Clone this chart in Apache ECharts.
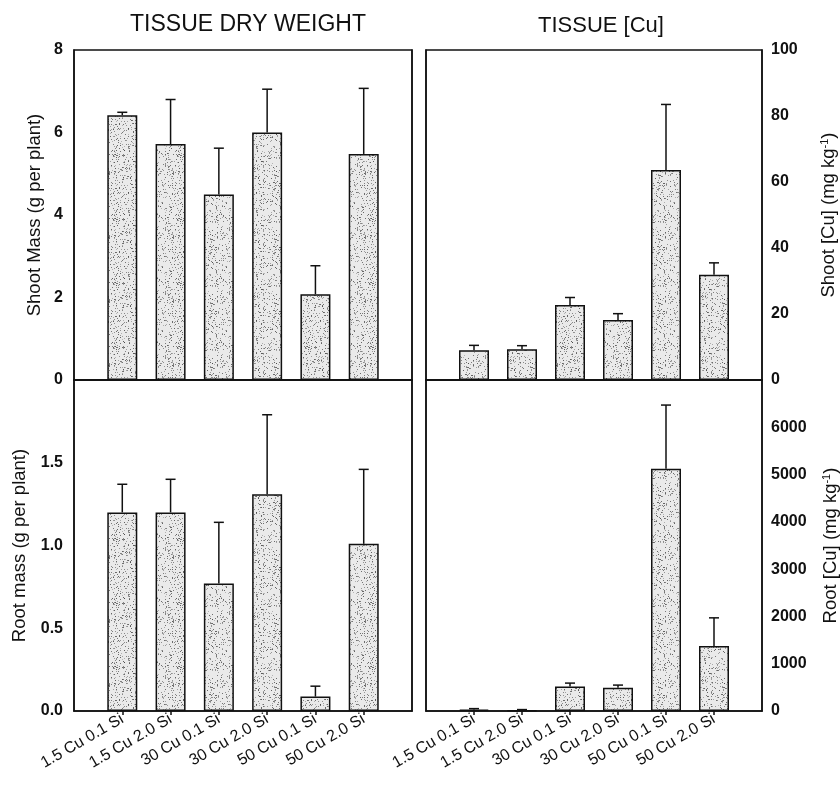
<!DOCTYPE html>
<html lang="en">
<head>
    <meta charset="UTF-8">
    <title>Tissue dry weight and tissue Cu</title>
    <script src="https://cdn.jsdelivr.net/npm/echarts@6/dist/echarts.min.js"></script>
    <style>
        html, body { margin: 0; padding: 0; background: #fff; }
        #main { width: 840px; height: 787px; }
    </style>
</head>
<body>
<div id="main"></div>
<script>
    // treatments
    var categories = ['1.5 Cu 0.1 Si', '1.5 Cu 2.0 Si', '30 Cu 0.1 Si', '30 Cu 2.0 Si', '50 Cu 0.1 Si', '50 Cu 2.0 Si'];

    // shoot mass (g per plant), mean and top of error bar
    var shootMass = [6.42, 5.72, 4.50, 6.00, 2.08, 5.48];
    var shootMassErr = [6.49, 6.80, 5.62, 7.05, 2.77, 7.07];

    // shoot [Cu] (mg/kg)
    var shootCu = [9.0, 9.3, 22.7, 18.2, 63.6, 31.9];
    var shootCuErr = [10.5, 10.4, 25.0, 20.1, 83.5, 35.5];

    // root mass (g per plant)
    var rootMass = [1.20, 1.20, 0.77, 1.31, 0.087, 1.01];
    var rootMassErr = [1.37, 1.40, 1.14, 1.79, 0.15, 1.46];

    // root [Cu] (mg/kg)
    var rootCu = [30, 15, 520, 490, 5125, 1373];
    var rootCuErr = [50, 30, 590, 548, 6470, 1970];

    var font = 'Liberation Sans, Arial, sans-serif';

    // stippled fill like the printed bars (fixed seed so it is the same every time)
    function stipple() {
        var c = document.createElement('canvas');
        c.width = 64; c.height = 64;
        var ctx = c.getContext('2d');
        ctx.fillStyle = '#eaeaea';
        ctx.fillRect(0, 0, 64, 64);
        var s = 12345;
        function next() { s = (s * 1103515245 + 12345) % 2147483648; return s / 2147483648; }
        for (var i = 0; i < 600; i++) {
            var x = Math.floor(next() * 64);
            var y = Math.floor(next() * 64);
            var g = 60 + Math.floor(next() * 110);
            ctx.fillStyle = 'rgba(' + g + ',' + g + ',' + g + ',0.8)';
            ctx.fillRect(x, y, 1, 1);
        }
        return c;
    }
    var pattern = { image: stipple(), repeat: 'repeat' };

    var axisCats = [''].concat(categories).concat(['']);

    function pad(arr) {
        return ['-'].concat(arr).concat(['-']);
    }

    var grids = [
        { left: 74, top: 50, width: 338, height: 330 },
        { left: 426, top: 50, width: 336, height: 330 },
        { left: 74, top: 380, width: 338, height: 331 },
        { left: 426, top: 380, width: 336, height: 331 }
    ];

    var xAxes = [], yAxes = [], series = [];

    function addPanel(gi, isBottom, labelRight, min, max, interval, name, nameGap, fmt, means, errs) {
        xAxes.push({
            type: 'category',
            gridIndex: gi,
            data: axisCats,
            boundaryGap: false,
            axisLine: { lineStyle: { color: '#111', width: 1.5 } },
            axisTick: {
                show: isBottom,
                interval: function (i) { return i > 0 && i < 7; },
                length: 4,
                lineStyle: { color: '#111', width: 1.5 }
            },
            axisLabel: {
                show: isBottom,
                rotate: 30,
                interval: 0,
                margin: 7,
                fontFamily: font,
                fontSize: 16,
                color: '#111'
            },
            splitLine: { show: false }
        });
        var xi = xAxes.length - 1;
        // labelled axis
        yAxes.push({
            type: 'value',
            gridIndex: gi,
            position: labelRight ? 'right' : 'left',
            min: min, max: max, interval: interval,
            name: name,
            nameLocation: 'middle',
            nameRotate: 90,
            nameGap: nameGap,
            nameTextStyle: {
                fontFamily: font, fontSize: 18.5, color: '#111',
                rich: { sup: { fontFamily: font, fontSize: 11, color: '#111', verticalAlign: 'top', padding: [0, 0, 9, 0] } }
            },
            axisLine: { show: true, lineStyle: { color: '#111', width: 1.5 } },
            axisTick: { inside: true, length: 4, lineStyle: { color: '#111', width: 1.5 } },
            axisLabel: {
                fontFamily: font, fontSize: 16, fontWeight: 'bold', color: '#111',
                margin: labelRight ? 9 : 11,
                showMaxLabel: !isBottom,
                formatter: fmt
            },
            splitLine: { show: false }
        });
        var yi = yAxes.length - 1;
        // mirrored ticks on the other side
        yAxes.push({
            type: 'value',
            gridIndex: gi,
            position: labelRight ? 'left' : 'right',
            min: min, max: max, interval: interval,
            axisLine: { show: true, lineStyle: { color: '#111', width: 1.5 } },
            axisTick: { inside: true, length: 4, lineStyle: { color: '#111', width: 1.5 } },
            axisLabel: { show: false },
            splitLine: { show: false }
        });

        series.push({
            type: 'bar',
            xAxisIndex: xi,
            yAxisIndex: yi,
            data: pad(means),
            barWidth: 30,
            itemStyle: { color: pattern, borderColor: '#111', borderWidth: 1.5 },
            silent: true
        });

        var errData = means.map(function (m, i) { return [i + 1, m, errs[i]]; });
        series.push({
            type: 'custom',
            xAxisIndex: xi,
            yAxisIndex: yi,
            data: errData,
            silent: true,
            z: 1,
            renderItem: function (params, api) {
                var low = api.coord([api.value(0), api.value(1)]);
                var high = api.coord([api.value(0), api.value(2)]);
                var style = { stroke: '#111', lineWidth: 1.5 };
                return {
                    type: 'group',
                    children: [
                        { type: 'line', shape: { x1: low[0], y1: low[1], x2: high[0], y2: high[1] }, style: style },
                        { type: 'line', shape: { x1: high[0] - 5, y1: high[1], x2: high[0] + 5, y2: high[1] }, style: style }
                    ]
                };
            }
        });
    }

    var plain = function (v) { return String(v); };

    addPanel(0, false, false, 0, 8, 2, 'Shoot Mass (g per plant)', 30, plain, shootMass, shootMassErr);
    addPanel(1, false, true, 0, 100, 20, 'Shoot [Cu] (mg kg{sup|-1})', 57, plain, shootCu, shootCuErr);
    addPanel(2, true, false, 0, 2, 0.5, 'Root mass (g per plant)', 45, function (v) { return v.toFixed(1); }, rootMass, rootMassErr);
    addPanel(3, true, true, 0, 7000, 1000, 'Root [Cu] (mg kg{sup|-1})', 59, plain, rootCu, rootCuErr);

    var chart = echarts.init(document.getElementById('main'), null, { renderer: 'canvas' });
    chart.setOption({
        backgroundColor: '#fff',
        animation: false,
        grid: grids.map(function (g) {
            return {
                left: g.left, top: g.top, width: g.width, height: g.height,
                outerBoundsMode: 'none',
                show: true, borderColor: '#111', borderWidth: 1.5, backgroundColor: 'transparent'
            };
        }),
        xAxis: xAxes,
        yAxis: yAxes,
        series: series,
        graphic: [
            { type: 'text', x: 248, y: 25, style: { text: 'TISSUE DRY WEIGHT', fontFamily: font, fontSize: 23, fill: '#111', align: 'center', verticalAlign: 'middle' } },
            { type: 'text', x: 601, y: 26, style: { text: 'TISSUE [Cu]', fontFamily: font, fontSize: 22, fill: '#111', align: 'center', verticalAlign: 'middle' } }
        ]
    });
</script>
</body>
</html>
